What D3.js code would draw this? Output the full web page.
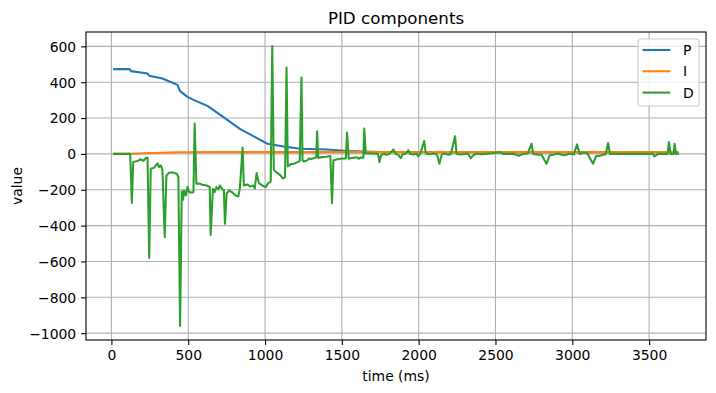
<!DOCTYPE html>
<html>
<head>
<meta charset="utf-8">
<script src="https://cdn.jsdelivr.net/npm/d3@7"></script>
<style>
  body { margin: 0; background: #fff; }
  text { font-family: "DejaVu Sans", sans-serif; }
</style>
</head>
<body>
<div id="chart"></div>
<script>
// series: [time (ms), value]
var pData = [[18,473],[120,473],[127,462],[235,449],[245,436],[332,421],[430,385],[447,350],[495,318],
  [538,300],[625,268],[711,216],[841,137],[927,98],[1014,57],[1122,41],[1230,29],[1404,25],[1534,16],
  [1750,11],[2500,10],[3687,10]];

var iData = [[18,0],[122,0],[250,5],[450,9],[700,10],[1500,10],[3687,10]];

var dData = [[18,0],[122,0],[133,-273],[142,-45],[170,-40],[187,-30],[209,-38],[224,-23],[235,-21],
  [246,-580],[256,-83],[278,-77],[300,-53],[310,-73],[321,-64],[332,-86],[347,-465],[358,-120],
  [375,-105],[397,-103],[425,-110],[436,-131],[447,-960],[458,-208],[466,-256],[473,-204],[484,-232],
  [495,-185],[505,-213],[527,-215],[534,-212],[542,169],[553,-166],[570,-165],[592,-172],[620,-176],
  [640,-185],[646,-452],[661,-195],[672,-213],[683,-185],[696,-198],[706,-176],[722,-198],[732,-202],
  [739,-390],[750,-222],[765,-204],[787,-215],[808,-232],[826,-237],[836,-193],[854,35],[862,-176],
  [884,-170],[906,-182],[923,-176],[933,-193],[945,-107],[960,-163],[982,-176],[1004,-185],[1021,-163],
  [1037,-154],[1047,602],[1057,-88],[1074,-103],[1100,-120],[1117,-137],[1130,-130],[1140,482],
  [1148,-70],[1166,-58],[1187,-55],[1209,-47],[1226,-40],[1237,426],[1244,-36],[1253,-42],[1275,-36],
  [1286,-25],[1300,-28],[1325,-22],[1333,-20],[1339,126],[1346,-22],[1370,-18],[1400,-16],[1425,-12],
  [1436,-275],[1445,-36],[1480,-28],[1510,-26],[1526,-25],[1534,119],[1545,-27],[1570,-22],[1600,-19],
  [1610,-27],[1620,-20],[1640,-21],[1646,141],[1655,3],[1700,2],[1735,0],[1745,-45],[1755,-8],
  [1775,2],[1790,-5],[1810,0],[1836,25],[1850,0],[1865,-4],[1884,-23],[1895,-2],[1915,0],[1933,20],
  [1945,0],[1965,-3],[1985,2],[1998,-14],[2010,0],[2036,72],[2046,4],[2065,-2],[2085,0],[2100,3],
  [2120,-5],[2135,-55],[2150,-4],[2170,2],[2193,-5],[2210,0],[2237,98],[2247,0],[2270,-3],[2300,0],
  [2320,2],[2339,-23],[2360,-5],[2380,2],[2400,-2],[2440,0],[2480,4],[2530,10],[2550,0],[2620,0],
  [2650,-10],[2680,0],[2710,2],[2735,57],[2745,0],[2780,-4],[2800,-5],[2832,-55],[2853,-8],[2875,-5],
  [2906,2],[2930,-4],[2950,-8],[2985,2],[3010,-3],[3031,53],[3048,0],[3080,8],[3100,0],[3135,-55],
  [3157,-10],[3175,-12],[3190,-8],[3218,0],[3233,61],[3245,0],[3400,0],[3525,0],[3535,-14],[3557,0],
  [3620,0],[3629,66],[3640,0],[3660,0],[3666,57],[3675,0],[3687,2]];

var seriesNames = ["P", "I", "D"];
var seriesColors = ["#1f77b4", "#ff7f0e", "#2ca02c"];
var xTicks = [0, 500, 1000, 1500, 2000, 2500, 3000, 3500];
var yTicks = [-1000, -800, -600, -400, -200, 0, 200, 400, 600];

var width = 716, height = 393;
var margin = {left: 86, top: 32, right: 10, bottom: 53};
var iw = width - margin.left - margin.right;
var ih = height - margin.top - margin.bottom;

var allSeries = [pData, iData, dData];
var all = d3.merge(allSeries);

// matplotlib style 5% padding
var xExt = d3.extent(all, function(d) { return d[0]; });
var yExt = d3.extent(all, function(d) { return d[1]; });
var xPad = (xExt[1] - xExt[0]) * 0.05, yPad = (yExt[1] - yExt[0]) * 0.05;

var x = d3.scaleLinear().domain([xExt[0] - xPad, xExt[1] + xPad]).range([0, iw]);
var y = d3.scaleLinear().domain([yExt[0] - yPad, yExt[1] + yPad]).range([ih, 0]);

var svg = d3.select("#chart")
    .append("svg")
    .attr("width", width)
    .attr("height", height);

var g = svg.append("g")
    .attr("transform", "translate(" + margin.left + "," + margin.top + ")");

// grid
g.append("g").selectAll("line")
    .data(xTicks)
    .enter()
    .append("line")
    .attr("x1", function(d) { return x(d); })
    .attr("x2", function(d) { return x(d); })
    .attr("y1", 0).attr("y2", ih)
    .style("stroke", "#b0b0b0")
    .style("stroke-width", 1.1);

g.append("g").selectAll("line")
    .data(yTicks)
    .enter()
    .append("line")
    .attr("y1", function(d) { return y(d); })
    .attr("y2", function(d) { return y(d); })
    .attr("x1", 0).attr("x2", iw)
    .style("stroke", "#b0b0b0")
    .style("stroke-width", 1.1);

var line = d3.line()
    .x(function(d) { return x(d[0]); })
    .y(function(d) { return y(d[1]); });

g.selectAll("path.series")
    .data(allSeries)
    .enter()
    .append("path")
    .attr("class", "series")
    .attr("d", line)
    .style("fill", "none")
    .style("stroke", function(d, i) { return seriesColors[i]; })
    .style("stroke-width", 2.08)
    .style("stroke-linejoin", "round")
    .style("stroke-linecap", "square");

// axes
var fmt = d3.format("d");
var xAxis = g.append("g")
    .attr("transform", "translate(0," + ih + ")")
    .call(d3.axisBottom(x).tickValues(xTicks).tickFormat(fmt).tickSizeOuter(0).tickSize(4.9).tickPadding(4.9));
var yAxis = g.append("g")
    .call(d3.axisLeft(y).tickValues(yTicks).tickFormat(fmt).tickSizeOuter(0).tickSize(4.9).tickPadding(4.9));

[xAxis, yAxis].forEach(function(a) {
    a.select(".domain").remove();
    a.selectAll(".tick line").style("stroke", "#000").style("stroke-width", 1.1);
    a.selectAll(".tick text")
        .style("font-family", "DejaVu Sans")
        .style("font-size", "13.9px")
        .style("fill", "#000");
});
yAxis.selectAll(".tick text").attr("dy", "0.35em");

// frame
g.append("rect")
    .attr("width", iw)
    .attr("height", ih)
    .style("fill", "none")
    .style("stroke", "#000")
    .style("stroke-width", 1.1);

// labels
svg.append("text")
    .attr("x", margin.left + iw / 2)
    .attr("y", 24)
    .attr("text-anchor", "middle")
    .style("font-size", "16.7px")
    .text("PID components");

svg.append("text")
    .attr("x", margin.left + iw / 2)
    .attr("y", 381)
    .attr("text-anchor", "middle")
    .style("font-size", "13.9px")
    .text("time (ms)");

svg.append("text")
    .attr("transform", "translate(22," + (margin.top + ih / 2) + ") rotate(-90)")
    .attr("text-anchor", "middle")
    .style("font-size", "13.9px")
    .text("value");

// legend
var legend = g.append("g")
    .attr("transform", "translate(" + (iw - 68) + ",7)");

legend.append("rect")
    .attr("width", 61)
    .attr("height", 67)
    .attr("rx", 2.8)
    .style("fill", "rgba(255,255,255,0.8)")
    .style("stroke", "#cccccc")
    .style("stroke-width", 1.1);

var item = legend.selectAll("g.item")
    .data(seriesNames)
    .enter()
    .append("g")
    .attr("class", "item")
    .attr("transform", function(d, i) { return "translate(0," + (11 + i * 21.3) + ")"; });

item.append("line")
    .attr("x1", 4.5).attr("x2", 32.3)
    .style("stroke", function(d, i) { return seriesColors[i]; })
    .style("stroke-width", 2.08);

item.append("text")
    .attr("x", 45)
    .attr("y", 5)
    .style("font-size", "13.9px")
    .text(function(d) { return d; });
</script>
</body>
</html>
